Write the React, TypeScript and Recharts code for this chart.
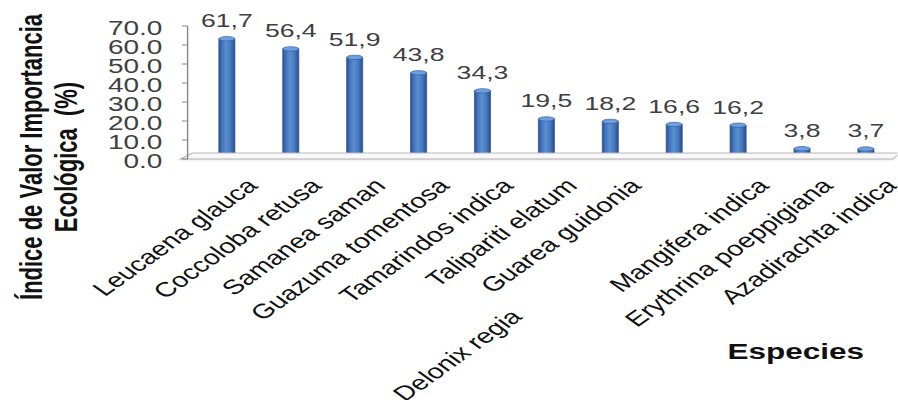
import React from 'react';
import { BarChart, Bar, XAxis, YAxis, LabelList, ReferenceLine } from 'recharts';

// Índice de Valor de Importancia Ecológica por especie
const especies = [
  'Leucaena glauca',
  'Coccoloba retusa',
  'Samanea saman',
  'Guazuma tomentosa',
  'Tamarindos indica',
  'Talipariti elatum',
  'Guarea guidonia',
  'Delonix regia',
  'Mangifera indica',
  'Erythrina poeppigiana',
  'Azadirachta indica',
];
const ivie = [61.7, 56.4, 51.9, 43.8, 34.3, 19.5, 18.2, 16.6, 16.2, 3.8, 3.7];
const yTicks = [0, 10, 20, 30, 40, 50, 60, 70];

const data = especies.map((name, i) => ({ name, ivie: ivie[i] }));

// the chart is laid out narrow and widened horizontally
const STRETCH = 1.4;
const OUT_W = 898;
const OUT_H = 400;
const W = OUT_W / STRETCH;

const FONT = 'Arial, "Liberation Sans", sans-serif';
const LIFT = 3; // columns stand mid-depth on the floor

const fmtComma = (v: number) => v.toFixed(1).replace('.', ',');

function Cylinder(props: any) {
  const x = Number(props.x);
  const y = Number(props.y);
  const width = Number(props.width);
  const height = Number(props.height);
  const idx = props.index ?? 0;
  if (!isFinite(x) || !isFinite(y) || !(width > 0)) return null;
  const top = y - LIFT;
  const bottom = y + height - LIFT;
  const rx = width / 2;
  const ry = 2.2;
  const gid = `cyl-body-${idx}`;
  const body = `M ${x} ${top} L ${x} ${bottom} A ${rx} ${ry} 0 0 0 ${x + width} ${bottom} L ${x + width} ${top} Z`;
  return (
    <g>
      <defs>
        <linearGradient id={gid} x1="0" y1="0" x2="1" y2="0">
          <stop offset="0%" stopColor="#284f8c" />
          <stop offset="18%" stopColor="#3f72b8" />
          <stop offset="45%" stopColor="#5b8fd4" />
          <stop offset="75%" stopColor="#4577bd" />
          <stop offset="100%" stopColor="#274d88" />
        </linearGradient>
      </defs>
      <path d={body} fill={`url(#${gid})`} stroke="#2b5592" strokeWidth={0.6} />
      <ellipse cx={x + rx} cy={top} rx={rx} ry={ry} fill="#6f9fdf" stroke="#3462a3" strokeWidth={0.6} />
    </g>
  );
}

function ValueLabel(props: any) {
  const x = Number(props.x);
  const y = Number(props.y);
  const width = Number(props.width);
  const value = Number(props.value);
  if (!isFinite(x) || !isFinite(y)) return null;
  return (
    <text
      x={x + width / 2}
      y={y - LIFT - 11.5}
      textAnchor="middle"
      fontFamily={FONT}
      fontSize={19}
      fill="#404040"
    >
      {fmtComma(value)}
    </text>
  );
}

function ValueTick(props: any) {
  const { x, y, payload } = props;
  return (
    <text x={x} y={y} dy={9.5} textAnchor="end" fontFamily={FONT} fontSize={20} fill="#404040">
      {Number(payload.value).toFixed(1)}
    </text>
  );
}

function SpeciesTick(props: any) {
  const { x, y, payload } = props;
  const name = String(payload.value);
  const slide = name === 'Delonix regia' ? -185 : 0;
  const ax = x + 23;
  const ay = y + 28;
  return (
    <text
      x={ax}
      y={ay}
      dx={slide}
      textAnchor="end"
      transform={`rotate(-45 ${ax} ${ay})`}
      fontFamily={FONT}
      fontSize={20.5}
      fill="#111"
    >
      {name}
    </text>
  );
}

function Floor(props: any) {
  const x1 = Number(props.x1);
  const x2 = Number(props.x2);
  const y = Number(props.y1);
  if (!isFinite(x1) || !isFinite(x2) || !isFinite(y)) return null;
  const depth = 6;
  const fl = x1 - 5.3;
  const fr = x2 - 3.5;
  const bl = x1 + 3.5;
  const br = x2 + 1.5;
  return (
    <g>
      <polygon
        points={`${fl},${y} ${fr},${y} ${br},${y - depth} ${bl},${y - depth}`}
        fill="#f8f8f8"
        stroke="#b8b8b8"
        strokeWidth={1}
      />
      <line x1={fl} y1={y + 0.8} x2={fr} y2={y + 0.8} stroke="#c8c8c8" strokeWidth={1} />
    </g>
  );
}

function YTitle(props: any) {
  const vb = props.viewBox || { x: 34, y: 26 };
  const cy = vb.y + 131;
  const l1 = vb.x - 4;
  const l2 = vb.x + 21;
  return (
    <g fontFamily={FONT} fontWeight="bold" fontSize={22} fill="#111">
      <text x={l1} y={cy} textAnchor="middle" transform={`rotate(-90 ${l1} ${cy})`}>
        Índice de Valor Importancia
      </text>
      <text
        x={l2}
        y={cy}
        textAnchor="middle"
        transform={`rotate(-90 ${l2} ${cy})`}
        style={{ whiteSpace: 'pre' }}
      >
        {'Ecológica  (%)'}
      </text>
    </g>
  );
}

function XTitle(props: any) {
  const vb = props.viewBox || { x: 134, y: 159, width: 507, height: 200 };
  const cx = vb.x + vb.width - 73;
  const by = vb.y + 200;
  return (
    <text x={cx} y={by} textAnchor="middle" fontFamily={FONT} fontWeight="bold" fontSize={22.5} fill="#111">
      Especies
    </text>
  );
}

export default function App() {
  return (
    <div
      style={{
        position: 'absolute',
        left: 0,
        top: 0,
        width: OUT_W,
        height: OUT_H,
        overflow: 'hidden',
        background: '#ffffff',
      }}
    >
      <div style={{ width: W, height: OUT_H, transform: `scaleX(${STRETCH})`, transformOrigin: '0 0' }}>
        <BarChart
          width={W}
          height={OUT_H}
          data={data}
          margin={{ top: 26, right: 0, bottom: 41, left: 34 }}
        >
          <XAxis
            dataKey="name"
            type="category"
            interval={0}
            height={200}
            padding={{ left: 5.3, right: 0 }}
            axisLine={false}
            tickLine={false}
            tickSize={0}
            tickMargin={0}
            tick={<SpeciesTick />}
            label={<XTitle />}
          />
          <YAxis
            type="number"
            domain={[0, 70]}
            ticks={yTicks}
            interval={0}
            width={100}
            tickSize={4}
            tickMargin={14}
            axisLine={{ stroke: '#868686', strokeWidth: 1 }}
            tickLine={{ stroke: '#868686', strokeWidth: 1 }}
            tick={<ValueTick />}
            label={<YTitle />}
          />
          <ReferenceLine y={0} shape={<Floor />} />
          <Bar dataKey="ivie" barSize={11.5} shape={<Cylinder />} isAnimationActive={false}>
            <LabelList dataKey="ivie" content={<ValueLabel />} />
          </Bar>
        </BarChart>
      </div>
    </div>
  );
}
